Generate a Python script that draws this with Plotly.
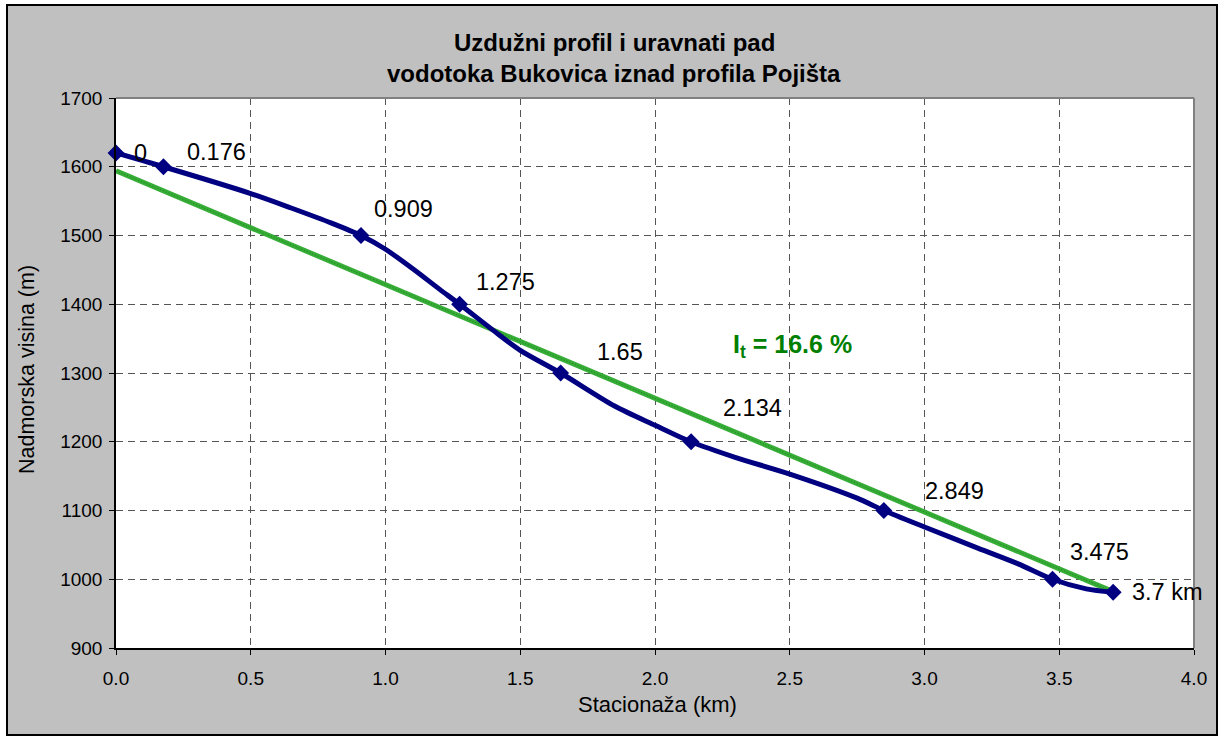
import plotly.graph_objects as go

# Marked profile points (station km, elevation m)
station_km = [0.0, 0.176, 0.909, 1.275, 1.65, 2.134, 2.849, 3.475, 3.7]
elevation_m = [1620, 1600, 1500, 1400, 1300, 1200, 1100, 1000, 981]
point_labels = ["0", "0.176", "0.909", "1.275", "1.65", "2.134", "2.849", "3.475", "3.7 km"]

# Full profile line (including unmarked vertices)
line_km = [0.0, 0.176, 0.5, 0.65, 0.8, 0.909, 1.0, 1.1, 1.2, 1.275, 1.4, 1.5, 1.65,
           1.85, 2.0, 2.134, 2.3, 2.5, 2.75, 2.849, 3.0, 3.2, 3.35, 3.475, 3.6, 3.7]
line_m = [1620, 1600, 1561, 1540, 1518, 1500, 1480, 1452, 1422, 1400, 1362, 1333, 1300,
          1252, 1224, 1200, 1177, 1153, 1118, 1100, 1076, 1045, 1022, 1000, 986, 981]

# Equalised slope line
trend_km = [0.0, 3.7]
trend_m = [1594, 982]

x_ticks = [0.0, 0.5, 1.0, 1.5, 2.0, 2.5, 3.0, 3.5, 4.0]
y_ticks = [900, 1000, 1100, 1200, 1300, 1400, 1500, 1600, 1700]

# label pixel offsets (dx, dy up)
label_offsets = [(24, 0), (53, 15), (43, 27), (46, 22), (59, 21), (61, 34), (71, 20), (47, 27), (54, 0)]

W, H = 1222, 740
L, R, T, B = 116, 1194, 98, 648
pw, ph = R - L, B - T

def px(xp):
    return (xp - L) / pw

def py(yp):
    return (B - yp) / ph

FONT = "Liberation Sans, Arial, sans-serif"
NAVY = "#000080"

fig = go.Figure()

fig.add_trace(go.Scatter(x=trend_km, y=trend_m, mode="lines",
                         line=dict(color="#36ad36", width=5), hoverinfo="skip"))
fig.add_trace(go.Scatter(x=trend_km, y=trend_m, mode="lines",
                         line=dict(color="#1f801f", width=1, dash="1px,2px"), hoverinfo="skip"))
fig.add_trace(go.Scatter(x=line_km, y=line_m, mode="lines",
                         line=dict(color=NAVY, width=5, shape="spline", smoothing=0.8),
                         hoverinfo="skip"))
fig.add_trace(go.Scatter(x=station_km, y=elevation_m, mode="markers",
                         marker=dict(symbol="diamond", size=13, color=NAVY),
                         cliponaxis=False))

annotations = []
for xk, ym, lab, (dx, dy) in zip(station_km, elevation_m, point_labels, label_offsets):
    annotations.append(dict(x=xk, y=ym, xref="x", yref="y", text=lab, showarrow=False,
                            xshift=dx, yshift=dy, xanchor="center", yanchor="middle",
                            font=dict(family=FONT, size=23.5, color="black")))

annotations += [
    dict(x=px(614), y=py(42), xref="paper", yref="paper", text="<b>Uzdužni profil i uravnati pad</b>",
         showarrow=False, xanchor="center", yanchor="middle", font=dict(family=FONT, size=24, color="black")),
    dict(x=px(614), y=py(73), xref="paper", yref="paper", text="<b>vodotoka Bukovica iznad profila Pojišta</b>",
         showarrow=False, xanchor="center", yanchor="middle", font=dict(family=FONT, size=24, color="black")),
    dict(x=px(657), y=py(704), xref="paper", yref="paper", text="Stacionaža (km)",
         showarrow=False, xanchor="center", yanchor="middle", font=dict(family=FONT, size=22, color="black")),
    dict(x=px(27), y=py(370), xref="paper", yref="paper", text="Nadmorska visina (m)", textangle=-90,
         showarrow=False, xanchor="center", yanchor="middle", font=dict(family=FONT, size=21.5, color="black")),
    dict(x=px(792), y=py(346), xref="paper", yref="paper", text="<b>I<sub>t</sub> = 16.6 %</b>",
         showarrow=False, xanchor="center", yanchor="middle", font=dict(family=FONT, size=25, color="#008000")),
]

shapes = [
    # white strips outside the chart border
    dict(type="rect", xref="paper", yref="paper", x0=px(0), x1=px(7), y0=py(H), y1=py(0),
         fillcolor="white", line=dict(width=0), layer="above"),
    dict(type="rect", xref="paper", yref="paper", x0=px(1217), x1=px(W), y0=py(H), y1=py(0),
         fillcolor="white", line=dict(width=0), layer="above"),
    dict(type="rect", xref="paper", yref="paper", x0=px(0), x1=px(W), y0=py(5), y1=py(0),
         fillcolor="white", line=dict(width=0), layer="above"),
    dict(type="rect", xref="paper", yref="paper", x0=px(0), x1=px(W), y0=py(H), y1=py(735),
         fillcolor="white", line=dict(width=0), layer="above"),
    # chart border
    dict(type="rect", xref="paper", yref="paper", x0=px(7), x1=px(1217), y0=py(735), y1=py(5),
         line=dict(color="black", width=2), layer="above"),
    # plot area top & right border
    dict(type="line", xref="paper", yref="paper", x0=0, x1=1, y0=1, y1=1,
         line=dict(color="#808080", width=2), layer="above"),
    dict(type="line", xref="paper", yref="paper", x0=1, x1=1, y0=0, y1=1,
         line=dict(color="#808080", width=2), layer="above"),
]

fig.update_layout(
    width=W, height=H,
    margin=dict(l=L, r=W - R, t=T, b=H - B, pad=0),
    paper_bgcolor="#c0c0c0", plot_bgcolor="white",
    showlegend=False,
    annotations=annotations, shapes=shapes,
    font=dict(family=FONT, color="black"),
)
fig.update_xaxes(range=[0, 4], tickvals=x_ticks, ticktext=[f"{v:.1f}" for v in x_ticks],
                 showgrid=True, gridcolor="#555555", griddash="7px,5px", gridwidth=1,
                 showline=True, linecolor="black", linewidth=1.5,
                 ticks="outside", ticklen=5, tickcolor="black", ticklabelstandoff=7,
                 tickfont=dict(family=FONT, size=19, color="black"), zeroline=False)
fig.update_yaxes(range=[900, 1700], tickvals=y_ticks,
                 showgrid=True, gridcolor="#555555", griddash="7px,5px", gridwidth=1,
                 showline=True, linecolor="black", linewidth=1.5,
                 ticks="outside", ticklen=5, tickcolor="black", ticklabelstandoff=3,
                 tickfont=dict(family=FONT, size=19, color="black"), zeroline=False)

fig.write_html("out.html", config={"displayModeBar": False},
               post_script="document.body.style.margin='0px';document.body.style.overflow='hidden';")
